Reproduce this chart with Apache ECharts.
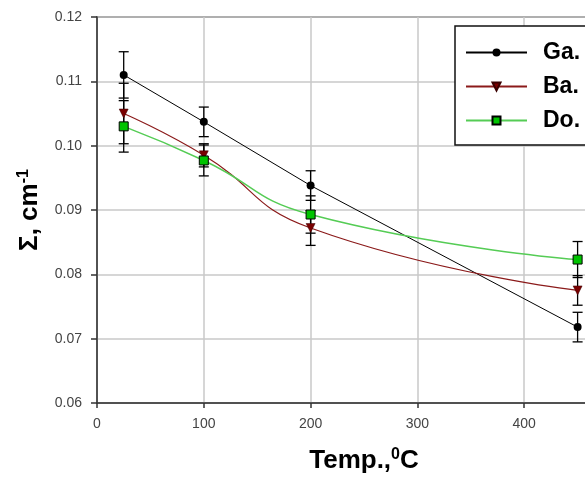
<!DOCTYPE html>
<html>
<head>
<meta charset="utf-8">
<script src="https://cdn.jsdelivr.net/npm/echarts@6/dist/echarts.min.js"></script>
<style>html,body{margin:0;padding:0;background:#fff}#c{width:585px;height:479px}</style>
</head>
<body>
<div id="c"></div>
<script>
var temps = [25, 100, 200, 450];
var seriesNames = ['Ga.', 'Ba.', 'Do.'];
var gaValues = [0.1110, 0.1037, 0.0938, 0.0718];
var baValues = [0.1050, 0.0985, 0.0872, 0.0775];
var doValues = [0.1030, 0.0977, 0.0893, 0.0823];
var gaErr = [0.0036, 0.0023, 0.0023, 0.0023];
var baErr = [0.0047, 0.0018, 0.0027, 0.0023];
var doErr = [0.0040, 0.0024, 0.0029, 0.0028];
var yTicks = [0.06, 0.07, 0.08, 0.09, 0.10, 0.11, 0.12];
var xTicks = [0, 100, 200, 300, 400, 500];

var FONT = 'Liberation Sans, Arial, sans-serif';

function pts(vals) { return temps.map(function (t, i) { return [t, vals[i]]; }); }
function errData(vals, errs) { return temps.map(function (t, i) { return [t, vals[i] - errs[i], vals[i] + errs[i]]; }); }

function errSeries(vals, errs) {
  return {
    type: 'custom',
    z: 1,
    silent: true,
    data: errData(vals, errs),
    renderItem: function (params, api) {
      var x = api.value(0);
      var lo = api.coord([x, api.value(1)]);
      var hi = api.coord([x, api.value(2)]);
      var hw = 5;
      var st = { stroke: '#000', lineWidth: 1.3 };
      return {
        type: 'group',
        children: [
          { type: 'line', shape: { x1: lo[0], y1: lo[1], x2: hi[0], y2: hi[1] }, style: st },
          { type: 'line', shape: { x1: lo[0] - hw, y1: lo[1], x2: lo[0] + hw, y2: lo[1] }, style: st },
          { type: 'line', shape: { x1: hi[0] - hw, y1: hi[1], x2: hi[0] + hw, y2: hi[1] }, style: st }
        ]
      };
    }
  };
}

var chart = echarts.init(document.getElementById('c'));
chart.setOption({
  animation: false,
  backgroundColor: '#fff',
  grid: { left: 97, top: 17, width: 534, height: 386, show: true, borderColor: '#333', borderWidth: 1.5, backgroundColor: 'transparent', outerBoundsMode: 'none', containLabel: false },
  legend: {
    left: 455, top: 26,
    orient: 'vertical',
    data: seriesNames,
    backgroundColor: '#fff',
    borderColor: '#111', borderWidth: 1.5,
    padding: [15, 80, 13, 10],
    itemWidth: 61, itemHeight: 10,
    itemGap: 11,
    textStyle: { fontFamily: FONT, fontSize: 23, fontWeight: 'bold', color: '#000', padding: [0, 0, 0, 11] }
  },
  xAxis: {
    type: 'value', min: 0, max: 500, interval: 100,
    name: '{a|Temp.,}{s|0}{a|C}',
    nameLocation: 'middle', nameGap: 44,
    nameTextStyle: {
      rich: {
        a: { fontFamily: FONT, fontSize: 26, fontWeight: 'bold', color: '#000', lineHeight: 28 },
        s: { fontFamily: FONT, fontSize: 16, fontWeight: 'bold', color: '#000', verticalAlign: 'top', lineHeight: 28 }
      }
    },
    axisLine: { show: true, lineStyle: { color: '#333', width: 1.5 } },
    axisTick: { show: true, length: 5, lineStyle: { color: '#333', width: 1.5 } },
    axisLabel: { fontFamily: FONT, fontSize: 14, color: '#444', margin: 14, formatter: function (v) { return xTicks.indexOf(v) >= 0 ? String(v) : ''; } },
    splitLine: { show: true, lineStyle: { color: '#c8c8c8', width: 1.5 } }
  },
  yAxis: {
    type: 'value', min: 0.06, max: 0.12, interval: 0.01,
    name: '{a|Σ, cm}{s|-1}',
    nameLocation: 'middle', nameGap: 53,
    nameTextStyle: {
      rich: {
        a: { fontFamily: FONT, fontSize: 26, fontWeight: 'bold', color: '#000', lineHeight: 28 },
        s: { fontFamily: FONT, fontSize: 16, fontWeight: 'bold', color: '#000', verticalAlign: 'top', lineHeight: 28 }
      }
    },
    axisLine: { show: true, lineStyle: { color: '#333', width: 1.5 } },
    axisTick: { show: true, length: 6, lineStyle: { color: '#333', width: 1.5 } },
    axisLabel: { fontFamily: FONT, fontSize: 14, color: '#444', margin: 15,
      formatter: function (v) { for (var i = 0; i < yTicks.length; i++) { if (Math.abs(yTicks[i] - v) < 1e-9) return yTicks[i].toFixed(2); } return ''; } },
    splitLine: { show: true, lineStyle: { color: '#c8c8c8', width: 1.5 } }
  },
  series: [
    errSeries(gaValues, gaErr),
    errSeries(baValues, baErr),
    errSeries(doValues, doErr),
    {
      name: seriesNames[0], type: 'line', z: 3, data: pts(gaValues), smooth: false,
      symbol: 'circle', symbolSize: 8,
      lineStyle: { color: '#000', width: 1 },
      itemStyle: { color: '#000', borderColor: '#000', borderWidth: 0 }
    },
    {
      name: seriesNames[1], type: 'line', z: 3, data: pts(baValues), smooth: 0.5,
      symbol: 'triangle', symbolRotate: 180, symbolSize: 9,
      lineStyle: { color: '#8b1a1a', width: 1.2 },
      itemStyle: { color: '#7a0000', borderColor: '#3a0000', borderWidth: 0.5 }
    },
    {
      name: seriesNames[2], type: 'line', z: 3, data: pts(doValues), smooth: 0.5,
      symbol: 'rect', symbolSize: 9,
      lineStyle: { color: '#55cc55', width: 1.5 },
      itemStyle: { color: '#00c400', borderColor: '#000', borderWidth: 1 }
    }
  ]
});
</script>
</body>
</html>
